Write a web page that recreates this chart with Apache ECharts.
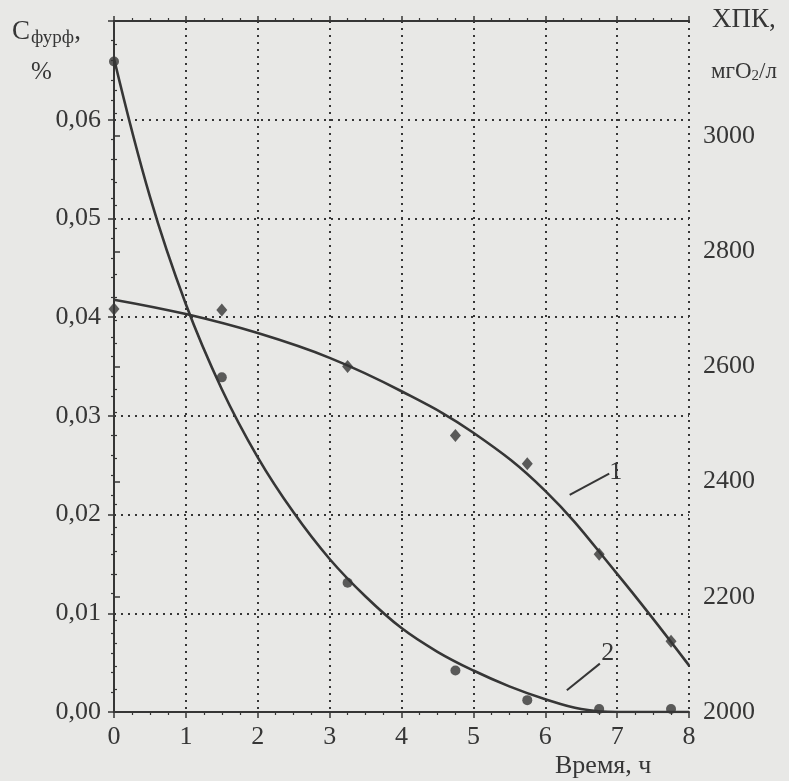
<!DOCTYPE html>
<html>
<head>
<meta charset="utf-8">
<script src="https://cdn.jsdelivr.net/npm/echarts@6.0.0/dist/echarts.min.js"></script>
<style>
  html, body { margin: 0; padding: 0; background: #e8e8e6; }
  #chart { width: 789px; height: 781px; }
</style>
</head>
<body>
<div id="chart"></div>
<script>
  // кривая 2 - фурфурол, % (левая ось)
  var furfCurveTime = [0, 0.5, 1, 1.5, 2, 2.5, 3, 3.5, 4, 4.5, 5, 5.5, 6, 6.5, 7, 8];
  var furfCurve = [0.0662, 0.0522, 0.0413, 0.0327, 0.0258, 0.0202, 0.0155, 0.0117, 0.0085, 0.0061, 0.0042, 0.0026, 0.0013, 0.0003, 0, 0];
  var furfPointTime = [0, 1.5, 3.25, 4.75, 5.75, 6.75, 7.75];
  var furfPoints = [0.0659, 0.0339, 0.0131, 0.0042, 0.0012, 0.0003, 0.0003];

  // кривая 1 - ХПК, мгО2/л (правая ось)
  var codCurveTime = [0, 1, 2, 3, 4, 5, 6, 7, 8];
  var codCurve = [2716, 2691, 2658, 2615, 2557, 2485, 2384, 2240, 2081];
  var codPointTime = [0, 1.5, 3.25, 4.75, 5.75, 6.75, 7.75];
  var codPoints = [2700, 2698, 2600, 2480, 2431, 2274, 2123];

  // подписи кривых и выноски (в координатах данных)
  var label1 = [6.98, 2416];
  var leader1 = [[6.34, 2377], [6.89, 2414]];
  var label2 = [6.87, 0.0060];
  var leader2 = [[6.30, 0.0022], [6.76, 0.0049]];

  var ink = '#363636';
  var font = '"Liberation Serif", "DejaVu Serif", serif';

  function pairs(xs, ys) {
    return xs.map(function (x, i) { return [x, ys[i]]; });
  }

  var myChart = echarts.init(document.getElementById('chart'));
  var option = {
    backgroundColor: '#e8e8e6',
    animation: false,
    textStyle: { fontFamily: font, color: ink },
    grid: { left: 114, right: 100, top: 21, bottom: 69 },
    xAxis: [{
      type: 'value',
      min: 0,
      max: 8,
      interval: 1,
      position: 'bottom',
      axisLine: { lineStyle: { color: ink, width: 2 } },
      axisTick: { length: 6, lineStyle: { color: ink, width: 1.5 } },
      minorTick: { show: true, splitNumber: 4, length: 3, lineStyle: { color: ink, width: 1.2 } },
      axisLabel: { fontSize: 26, margin: 12, color: ink, fontFamily: font },
      splitLine: { show: true, lineStyle: { color: ink, width: 2, type: [2, 5] } }
    }, {
      type: 'value',
      min: 0,
      max: 8,
      interval: 1,
      position: 'top',
      axisLine: { lineStyle: { color: ink, width: 2 } },
      axisTick: { length: 5, lineStyle: { color: ink, width: 1.5 } },
      minorTick: { show: true, splitNumber: 4, length: 3, lineStyle: { color: ink, width: 1.2 } },
      axisLabel: { show: false },
      splitLine: { show: false }
    }],
    yAxis: [{
      type: 'value',
      min: 0,
      max: 0.07,
      interval: 0.01,
      position: 'left',
      axisLine: { show: true, lineStyle: { color: ink, width: 2 } },
      axisTick: { show: true, length: 6, lineStyle: { color: ink, width: 1.5 } },
      minorTick: { show: true, splitNumber: 5, length: 3, lineStyle: { color: ink, width: 1.2 } },
      axisLabel: {
        fontSize: 26,
        margin: 13,
        color: ink,
        fontFamily: font,
        formatter: function (v) {
          return v > 0.065 ? '' : v.toFixed(2).replace('.', ',');
        }
      },
      splitLine: { show: true, lineStyle: { color: ink, width: 2, type: [2, 5] } }
    }, {
      type: 'value',
      min: 2000,
      max: 3200,
      interval: 200,
      position: 'right',
      axisLine: { show: true, lineStyle: { color: ink, width: 2 } },
      axisTick: { show: true, length: 6, lineStyle: { color: ink, width: 1.5 } },
      minorTick: { show: true, splitNumber: 5, length: 3, lineStyle: { color: ink, width: 1.2 } },
      axisLabel: {
        fontSize: 26,
        margin: 14,
        color: ink,
        fontFamily: font,
        formatter: function (v) {
          return v >= 3200 ? '' : String(v);
        }
      },
      splitLine: { show: false }
    }],
    graphic: [{
      type: 'text',
      left: 12,
      top: 18,
      style: {
        text: '{c|C}{s|фурф},',
        rich: {
          c: { fontSize: 27, fontFamily: font, fill: ink },
          s: { fontSize: 19, fontFamily: font, fill: ink, padding: [14, 0, 0, 1] }
        },
        font: '27px ' + font,
        fill: ink
      }
    }, {
      type: 'text',
      left: 31,
      top: 60,
      style: { text: '%', font: '25px ' + font, fill: ink }
    }, {
      type: 'text',
      left: 712,
      top: 6,
      style: { text: 'ХПК,', font: '27px ' + font, fill: ink }
    }, {
      type: 'text',
      left: 711,
      top: 60,
      style: {
        text: '{a|мгO}{b|2}{a|/л}',
        rich: {
          a: { fontSize: 23, fontFamily: font, fill: ink },
          b: { fontSize: 15, fontFamily: font, fill: ink, padding: [10, 0, 0, 0] }
        },
        font: '23px ' + font,
        fill: ink
      }
    }, {
      type: 'text',
      left: 555,
      top: 753,
      style: { text: 'Время, ч', font: '26px ' + font, fill: ink }
    }],
    series: [{
      name: 'фурфурол',
      type: 'line',
      yAxisIndex: 0,
      smooth: 0.4,
      showSymbol: false,
      lineStyle: { color: ink, width: 2.6 },
      data: pairs(furfCurveTime, furfCurve),
      markLine: {
        silent: true,
        symbol: 'none',
        label: { show: false },
        lineStyle: { color: ink, width: 2, type: 'solid' },
        data: [[{ coord: leader2[0] }, { coord: leader2[1] }]]
      },
      markPoint: {
        silent: true,
        symbol: 'circle',
        symbolSize: 1,
        itemStyle: { color: 'rgba(0,0,0,0)' },
        label: { show: true, formatter: '2', fontSize: 26, fontFamily: font, color: ink, position: 'inside' },
        data: [{ coord: label2 }]
      },
      z: 3
    }, {
      name: 'фурфурол, точки',
      type: 'scatter',
      yAxisIndex: 0,
      symbol: 'circle',
      symbolSize: 10,
      itemStyle: { color: ink },
      data: pairs(furfPointTime, furfPoints),
      z: 4
    }, {
      name: 'ХПК',
      type: 'line',
      yAxisIndex: 1,
      smooth: 0.4,
      showSymbol: false,
      lineStyle: { color: ink, width: 2.6 },
      data: pairs(codCurveTime, codCurve),
      markLine: {
        silent: true,
        symbol: 'none',
        label: { show: false },
        lineStyle: { color: ink, width: 2, type: 'solid' },
        data: [[{ coord: leader1[0] }, { coord: leader1[1] }]]
      },
      markPoint: {
        silent: true,
        symbol: 'circle',
        symbolSize: 1,
        itemStyle: { color: 'rgba(0,0,0,0)' },
        label: { show: true, formatter: '1', fontSize: 26, fontFamily: font, color: ink, position: 'inside' },
        data: [{ coord: label1 }]
      },
      z: 3
    }, {
      name: 'ХПК, точки',
      type: 'scatter',
      yAxisIndex: 1,
      symbol: 'diamond',
      symbolSize: [11, 13],
      itemStyle: { color: ink },
      data: pairs(codPointTime, codPoints),
      z: 4
    }]
  };
  myChart.setOption(option);
</script>
</body>
</html>
